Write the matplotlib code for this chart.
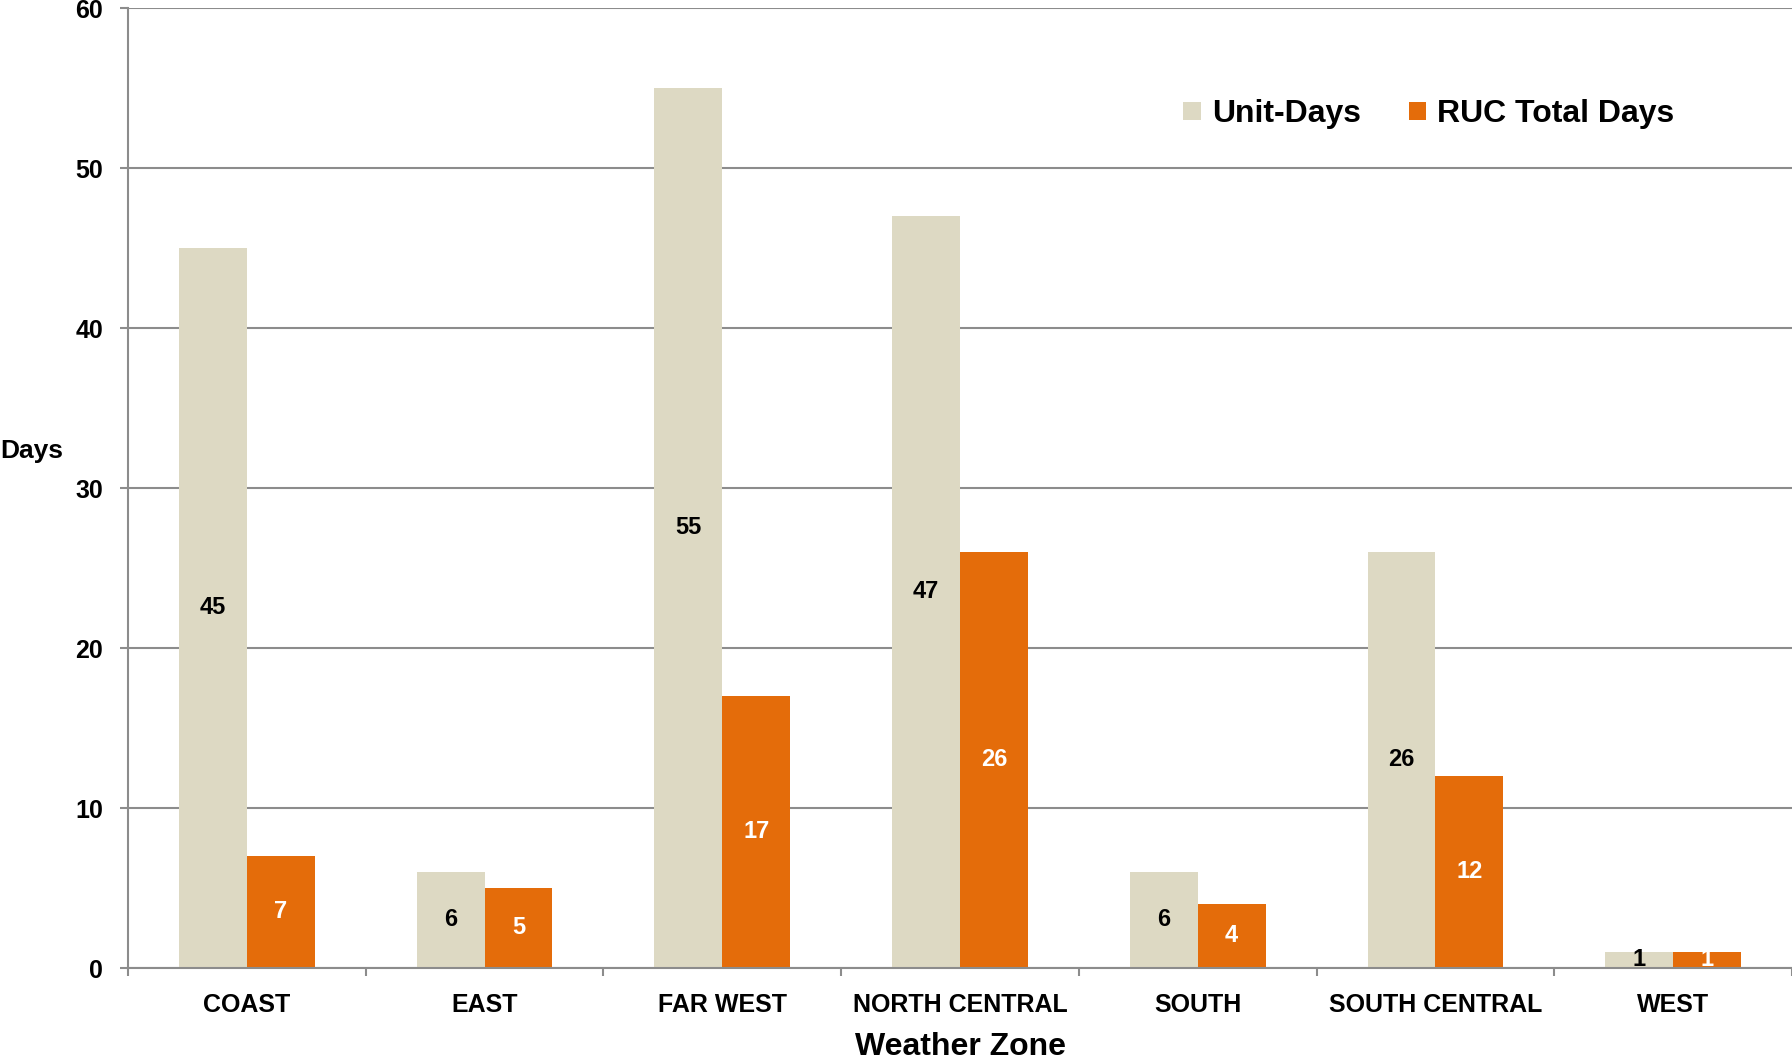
import matplotlib
matplotlib.use("Agg")
import matplotlib.pyplot as plt
import numpy as np
from matplotlib.patches import Patch

# Days by weather zone: unit-days vs RUC total days
zones       = ["COAST", "EAST", "FAR WEST", "NORTH CENTRAL", "SOUTH", "SOUTH CENTRAL", "WEST"]
unit_days   = [45, 6, 55, 47, 6, 26, 1]
ruc_days    = [7, 5, 17, 26, 4, 12, 1]
series_names = ["Unit-Days", "RUC Total Days"]

BEIGE  = "#DDD9C3"
ORANGE = "#E46C0A"
GRAY   = "#8C8C8C"

plt.rcParams["font.family"] = ["Liberation Sans", "DejaVu Sans"]
plt.rcParams["font.weight"] = "bold"

W, H = 1792, 1061
fig = plt.figure(figsize=(W / 100, H / 100), dpi=100)
ax = fig.add_axes([128 / W, 93 / H, 1664 / W, 960 / H])

x = np.arange(len(zones))
bw = 1 / 3.5   # excel gap width 150%

b1 = ax.bar(x - bw / 2, unit_days, bw, color=BEIGE, zorder=2)
b2 = ax.bar(x + bw / 2, ruc_days, bw, color=ORANGE, zorder=2)

for xi, v in zip(x, unit_days):
    ax.text(xi - bw / 2, v / 2, str(v), ha="center", va="center",
            fontsize=17, fontweight="bold", color="black", zorder=3)
for xi, v in zip(x, ruc_days):
    ax.text(xi + bw / 2, v / 2, str(v), ha="center", va="center",
            fontsize=17, fontweight="bold", color="white", zorder=3)

ax.set_xlim(-0.5, len(zones) - 0.5)
ax.set_ylim(0, 60)
ax.set_yticks(range(0, 61, 10))
ax.yaxis.grid(True, color=GRAY, linewidth=1.5, zorder=0)
ax.set_axisbelow(True)

for s in ["top", "right"]:
    ax.spines[s].set_visible(False)
for s in ["left", "bottom"]:
    ax.spines[s].set_color(GRAY)
    ax.spines[s].set_linewidth(1.5)

ax.tick_params(axis="y", direction="out", length=6, width=1.5, color=GRAY,
               pad=12, labelsize=18)
ax.set_xticks(x)
ax.set_xticklabels(zones)
ax.set_xticks(np.arange(-0.5, len(zones), 1.0), minor=True)
ax.tick_params(axis="x", which="major", length=0, pad=18, labelsize=18)
ax.tick_params(axis="x", which="minor", direction="out", length=6, width=1.5, color=GRAY)
for lbl in ax.get_xticklabels() + ax.get_yticklabels():
    lbl.set_fontweight("bold")

ax.set_xlabel("Weather Zone", fontsize=23, fontweight="bold", labelpad=11)
fig.text(0, 1 - 451 / H, "Days", ha="left", va="center", fontsize=19, fontweight="bold")

handles = [Patch(facecolor=BEIGE), Patch(facecolor=ORANGE)]
ax.legend(handles, series_names, loc="center left",
          bbox_to_anchor=(1183 / W, 1 - 114 / H), bbox_transform=fig.transFigure,
          ncol=2, frameon=False, borderpad=0, borderaxespad=0,
          handlelength=0.55, handleheight=0.5, handletextpad=0.35,
          columnspacing=1.5, prop={"size": 23, "weight": "bold"})

fig.savefig("out.png", dpi=100)
